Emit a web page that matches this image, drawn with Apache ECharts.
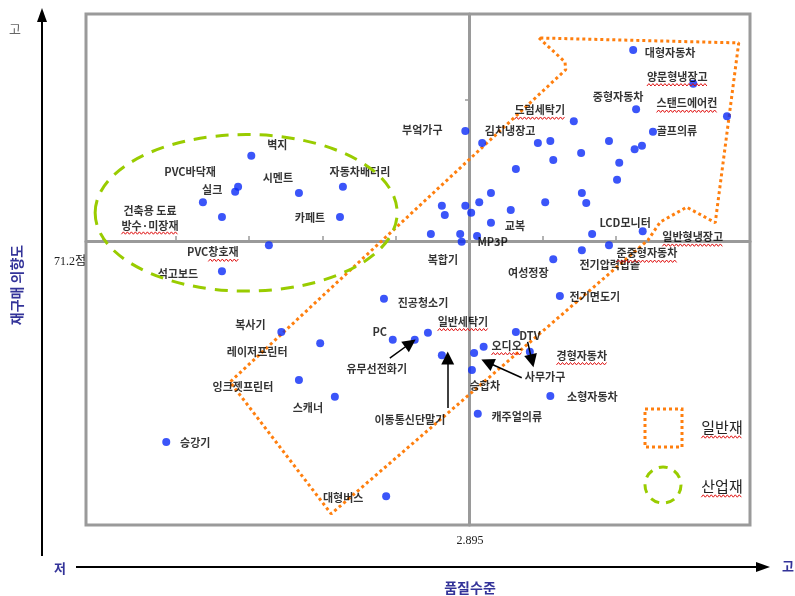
<!DOCTYPE html>
<html><head><meta charset="utf-8">
<script src="https://cdn.jsdelivr.net/npm/echarts@6/dist/echarts.min.js"></script>
<style>html,body{margin:0;padding:0;background:#fff}#c{width:795px;height:596px}</style>
</head><body><div id="c"></div>
<script>
// ---- data (deviation from mean: x = quality level, y = repurchase intention) ----
const pointNames = [
  '벽지','PVC바닥재','실크','시멘트','자동차배터리','','건축용 도료\n방수·미장재','카페트','PVC창호재','석고보드',
  '대형자동차','양문형냉장고','중형자동차','스탠드에어컨','드럼세탁기','부엌가구','김치냉장고','골프의류',
  '','','','','','','','','','','','','','','','','','','','','교복','복합기','','','MP3P',
  'LCD모니터','일반형냉장고','준중형자동차','전기압력밥솥','여성정장','전기면도기','진공청소기',
  '복사기','레이저프린터','잉크젯프린터','스캐너','PC','유무선전화기','일반세탁기','이동통신단말기',
  'DTV','오디오','사무가구','경형자동차','승합차','소형자동차','캐주얼의류','승강기','대형버스'
];
const pointX = [
  -2.97,-3.15,-3.19,-2.32,-1.72,-3.63,-3.37,-1.76,-2.73,-3.37,
  2.24,3.06,2.28,3.52,1.43,-0.05,0.18,2.51,
  0.94,1.11,1.91,2.26,2.36,1.53,1.15,2.05,0.64,2.02,0.30,1.54,1.60,1.04,0.14,-0.37,-0.05,0.57,-0.33,0.03,0.30,-0.52,-0.12,0.11,-0.10,
  1.68,2.37,1.91,1.54,1.15,1.24,-1.16,
  -2.56,-2.03,-2.32,-1.83,-1.04,-0.74,-0.56,-0.37,
  0.64,0.20,0.07,0.83,0.04,1.11,0.12,-4.13,-1.13
];
const pointY = [
  1.21,0.77,0.70,0.68,0.77,0.55,0.34,0.34,-0.06,-0.43,
  2.71,2.23,1.87,1.77,1.70,1.56,1.39,1.55,
  1.39,1.42,1.42,1.30,1.35,1.25,1.15,1.11,1.02,0.87,0.68,0.68,0.54,0.55,0.55,0.50,0.50,0.44,0.37,0.40,0.26,0.10,0.10,0.07,-0.01,
  0.10,0.14,-0.06,-0.13,-0.26,-0.78,-0.82,
  -1.29,-1.45,-1.97,-2.21,-1.40,-1.40,-1.30,-1.62,
  -1.29,-1.50,-1.59,-1.57,-1.83,-2.20,-2.45,-2.85,-3.62
];
// boundary of "일반재" (general goods) region, data coordinates
const generalX = [0.955,1.31,1.32,-3.26,-1.88,2.44,2.61,2.97,3.36,3.68,0.955];
const generalY = [2.88,2.54,2.43,-2.00,-3.87,0.01,0.27,0.48,0.26,2.81,2.88];
// "산업재" (industrial goods) ellipse: centre and radii, data coordinates
const industrialCenter = [-3.04, 0.40];
const industrialRadius = [2.06, 1.11];
// annotation arrows
const arrowFromX = [-1.08,-0.29,0.72,0.80];
const arrowFromY = [-1.66,-2.37,-1.94,-1.43];
const arrowToX   = [-0.80,-0.29,0.25,0.86];
const arrowToY   = [-1.45,-1.66,-1.72,-1.70];
const xTicks = [-5,-4,-3,-2,-1,1,2,3];
const yTicks = [2];
const xMeanLabel = '2.895';
const yMeanLabel = '71.2점';
const legendNames = ['일반재','산업재'];
// labels carrying a red spell-check underline in the original (text part underlined)
const squiggleLabels = {'양문형냉장고':'all','스탠드에어컨':'all','드럼세탁기':'all','일반세탁기':'all',
  '일반형냉장고':'all','준중형자동차':'all','오디오':'all','경형자동차':'all','PVC창호재':'창호재',
  '건축용 도료\n방수·미장재':'line2'};

// ---- label placement (pixels, label centre relative to point) ----
const labelOffsets = {
  '벽지':[26,-11],'PVC바닥재':[-48,-15],'실크':[-23,-2],'시멘트':[-21,-15],'자동차배터리':[17,-15],
  '건축용 도료\n방수·미장재':[-72,1],'카페트':[-30,1],'PVC창호재':[-56,7],'석고보드':[-44,2],
  '대형자동차':[37,3],'양문형냉장고':[-16,-7],'중형자동차':[-18,-12],'스탠드에어컨':[-40,-13],
  '드럼세탁기':[-34,-11],'부엌가구':[-43,-1],'김치냉장고':[28,-12],'골프의류':[24,-1],
  '교복':[24,3],'복합기':[12,26],'MP3P':[31,0],'LCD모니터':[33,-11],'일반형냉장고':[50,6],
  '준중형자동차':[38,8],'전기압력밥솥':[28,15],'여성정장':[-25,13],'전기면도기':[35,1],'진공청소기':[39,4],
  '복사기':[-31,-7],'레이저프린터':[-63,9],'잉크젯프린터':[-56,7],'스캐너':[-27,11],'PC':[-13,-8],
  '유무선전화기':[-38,29],'일반세탁기':[35,-11],'이동통신단말기':[-32,65],'DTV':[14,4],'오디오':[23,-1],
  '사무가구':[71,24],'경형자동차':[52,4],'승합차':[13,16],'소형자동차':[42,1],'캐주얼의류':[39,3],
  '승강기':[29,1],'대형버스':[-43,2]
};

const FONT = '"Noto Sans CJK KR", "Noto Sans", sans-serif';
const LABEL_FONT = 'bold 11px ' + FONT;
const chart = echarts.init(document.getElementById('c'), null, {renderer:'canvas'});

const scatterData = pointNames.map((n,i)=>({
  name:n, value:[pointX[i], pointY[i]],
  label:{show:!!n, offset: labelOffsets[n] || [0,0]}
}));
const arrowData = arrowFromX.map((v,i)=>[
  {coord:[arrowFromX[i], arrowFromY[i]]},
  {coord:[arrowToX[i], arrowToY[i]]}
]);

const option = {
  animation:false,
  backgroundColor:'#fff',
  grid:{left:86, right:45, top:14, bottom:71, show:true, borderColor:'#9a9a9a', borderWidth:3, backgroundColor:'transparent'},
  xAxis:{type:'value', min:-5.225, max:3.834,
    axisLine:{show:true, onZero:true, lineStyle:{color:'#9a9a9a', width:3}},
    axisTick:{show:true, inside:true, length:5, customValues:xTicks, lineStyle:{color:'#9a9a9a', width:1.5}},
    axisLabel:{show:false}, splitLine:{show:false}},
  yAxis:{type:'value', min:-4.028, max:3.22,
    axisLine:{show:true, onZero:true, lineStyle:{color:'#9a9a9a', width:3}},
    axisTick:{show:true, inside:false, length:4, customValues:yTicks, lineStyle:{color:'#9a9a9a', width:1.5}},
    axisLabel:{show:false}, splitLine:{show:false}},
  series:[
    {type:'line', data:generalX.map((v,i)=>[v, generalY[i]]), symbol:'none', silent:true, z:3,
      lineStyle:{color:'#ff7f0e', width:3, type:[3,3]}},
    {type:'scatter', data:scatterData, symbolSize:8, z:4,
      itemStyle:{color:'#0a2af7'},
      label:{position:'inside', formatter:'{b}', color:'#000', fontSize:11, fontWeight:'bold', fontFamily:FONT, lineHeight:15},
      markLine:{silent:true, symbol:['none','triangle'], symbolSize:13,
        lineStyle:{color:'#000', width:1.5, type:'solid'}, label:{show:false},
        data:arrowData}}
  ]
};
chart.setOption(option);

// text measuring for spell-check squiggles
const ctx = document.createElement('canvas').getContext('2d');
function textW(t, font){ ctx.font = font; return ctx.measureText(t).width; }
function squiggle(x0, x1, y){
  const pts = []; let k = 0;
  for (let x = x0; x <= x1; x += 2, k++) pts.push([x, y + (k % 2 ? -1.2 : 1.2)]);
  return {type:'polyline', z:6, silent:true, shape:{points:pts}, style:{stroke:'#e01010', lineWidth:1, fill:null}};
}

const c = chart.convertToPixel({gridIndex:0}, industrialCenter);
const e = chart.convertToPixel({gridIndex:0}, [industrialCenter[0]+industrialRadius[0], industrialCenter[1]+industrialRadius[1]]);
const blue = '#333399';
const graphic = [
  {type:'ellipse', z:5, silent:true, shape:{cx:c[0], cy:c[1], rx:e[0]-c[0], ry:c[1]-e[1]},
    style:{fill:'none', stroke:'#99cc00', lineWidth:3, lineDash:[13,9]}},
  {type:'line', shape:{x1:42,y1:556,x2:42,y2:20}, style:{stroke:'#000', lineWidth:2}},
  {type:'polygon', shape:{points:[[42,8],[37,22],[47,22]]}, style:{fill:'#000'}},
  {type:'line', shape:{x1:76,y1:567,x2:758,y2:567}, style:{stroke:'#000', lineWidth:2}},
  {type:'polygon', shape:{points:[[770,567],[756,562],[756,572]]}, style:{fill:'#000'}},
  {type:'text', x:15, y:29, style:{text:'고', fill:'#666', font:'13px '+FONT, align:'center', verticalAlign:'middle'}},
  {type:'text', x:60, y:568, style:{text:'저', fill:blue, font:'bold 13px '+FONT, align:'center', verticalAlign:'middle'}},
  {type:'text', x:788, y:566, style:{text:'고', fill:blue, font:'bold 13px '+FONT, align:'center', verticalAlign:'middle'}},
  {type:'text', x:470, y:588, style:{text:'품질수준', fill:blue, font:'bold 14px '+FONT, align:'center', verticalAlign:'middle'}},
  {type:'text', x:17, y:285, rotation:Math.PI/2, style:{text:'재구매 의향도', fill:blue, font:'bold 14px '+FONT, align:'center', verticalAlign:'middle'}},
  {type:'text', x:70, y:262, style:{text:yMeanLabel, fill:'#222', font:'12px "Liberation Serif", '+FONT, align:'center', verticalAlign:'middle'}},
  {type:'text', x:470, y:541, style:{text:xMeanLabel, fill:'#222', font:'12px "Liberation Serif", serif', align:'center', verticalAlign:'middle'}},
  {type:'rect', shape:{x:645,y:409,width:37,height:38}, style:{fill:'none', stroke:'#ff7f0e', lineWidth:3, lineDash:[3,3]}},
  {type:'text', x:722, y:427, style:{text:legendNames[0], fill:'#222', font:'15px '+FONT, align:'center', verticalAlign:'middle'}},
  {type:'circle', shape:{cx:663, cy:485, r:18}, style:{fill:'none', stroke:'#99cc00', lineWidth:3, lineDash:[9,7]}},
  {type:'text', x:722, y:486, style:{text:legendNames[1], fill:'#222', font:'15px '+FONT, align:'center', verticalAlign:'middle'}}
];
// legend label squiggles
legendNames.forEach((n, i) => {
  const w = textW(n, '15px ' + FONT), y = i ? 486 : 427;
  graphic.push(squiggle(722 - w/2, 722 + w/2, y + 10));
});
// point label squiggles
pointNames.forEach((n, i) => {
  const mode = squiggleLabels[n];
  if (!mode) return;
  const p = chart.convertToPixel({gridIndex:0}, [pointX[i], pointY[i]]);
  const off = labelOffsets[n] || [0,0];
  const cx = p[0] + off[0], cy = p[1] + off[1];
  if (mode === 'all') {
    const w = textW(n, LABEL_FONT);
    graphic.push(squiggle(cx - w/2, cx + w/2, cy + 8));
  } else if (mode === 'line2') {
    const lines = n.split('\n');
    const w = textW(lines[1], LABEL_FONT);
    graphic.push(squiggle(cx - w/2, cx + w/2, cy + 15));
  } else {
    const w = textW(n, LABEL_FONT), wp = textW(mode, LABEL_FONT);
    graphic.push(squiggle(cx + w/2 - wp, cx + w/2, cy + 8));
  }
});
chart.setOption({graphic:graphic});
</script></body></html>
